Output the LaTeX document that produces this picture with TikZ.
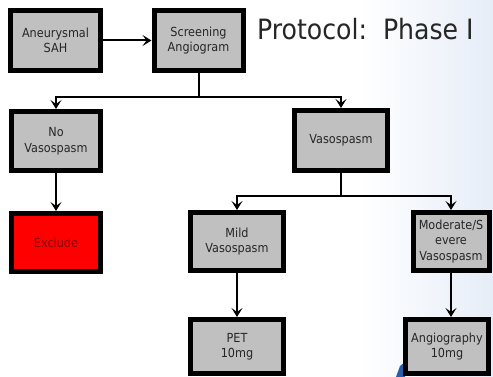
\documentclass[tikz,border=0pt]{standalone}
\usepackage{fontspec}
\setmainfont{DejaVu Sans Condensed}
\usetikzlibrary{arrows.meta}
\definecolor{boxgray}{HTML}{C0C0C0}
\definecolor{txt}{HTML}{262626}
\definecolor{exred}{HTML}{FF0000}
\definecolor{extxt}{HTML}{800000}
\definecolor{bgblue}{HTML}{E6EDF8}
\definecolor{blob}{HTML}{2A5DA8}
\begin{document}
\begin{tikzpicture}[x=1pt,y=-1pt,
  box/.style={draw=black, line width=5pt, fill=boxgray, inner sep=0pt,
    align=center, text=txt, font=\fontsize{12.5}{15.5}\selectfont},
  conn/.style={line width=2pt},
  arr/.style={line width=2pt, -{Stealth[length=9pt,width=11pt,inset=4pt]}}]
\useasboundingbox (0,0) rectangle (493,377);
\shade[left color=white, right color=bgblue] (360,0) rectangle (493,377);
\fill[blob] (396,377) -- (400,366) -- (405,362) -- (405,377) -- cycle;
% boxes
\node[box, minimum width=90pt, minimum height=60pt] (sah) at (55.5,40.5) {Aneurysmal\\SAH};
\node[box, minimum width=89pt, minimum height=60pt] (scr) at (198.5,40.5) {Screening\\Angiogram};
\node[box, minimum width=89pt, minimum height=59pt] (nov) at (56,141) {No\\Vasospasm};
\node[box, minimum width=89pt, minimum height=58pt, fill=exred, text=extxt] (exc) at (56,242.5) {Exclude};
\node[box, minimum width=93pt, minimum height=60pt] (vas) at (341,140.5) {Vasospasm};
\node[box, minimum width=93pt, minimum height=58pt] (mild) at (237,241.5) {Mild\\Vasospasm};
\node[box, minimum width=76pt, minimum height=58pt] (mod) at (451,241.5) {Moderate/S\\evere\\Vasospasm};
\node[box, minimum width=93pt, minimum height=54pt] (pet) at (237,346.5) {PET\\10mg};
\node[box, minimum width=83pt, minimum height=54pt] (ang) at (447,346.5) {Angiography\\10mg};
% title
\node[anchor=base west, inner sep=0pt, text=txt, font=\fontsize{28}{32}\selectfont] (title) at (257,40) {Protocol:\ \ Phase I};
% connectors
\draw[arr] (sah.east) -- (scr.west);
\path (scr.south) ++(0,24) coordinate (b1);
\draw[conn] (scr.south) -- (b1);
\draw[arr] (b1) -| (nov.north);
\draw[arr] (b1) -| (vas.north);
\draw[arr] (nov.south) -- (exc.north);
\path (vas.south) ++(0,23) coordinate (b2);
\draw[conn] (vas.south) -- (b2);
\draw[arr] (b2) -| (mild.north);
\draw[arr] (b2) -| (mod.north);
\draw[arr] (mild.south) -- (pet.north);
\draw[arr] (mod.south) -- (mod.south |- ang.north);
\end{tikzpicture}
\end{document}
